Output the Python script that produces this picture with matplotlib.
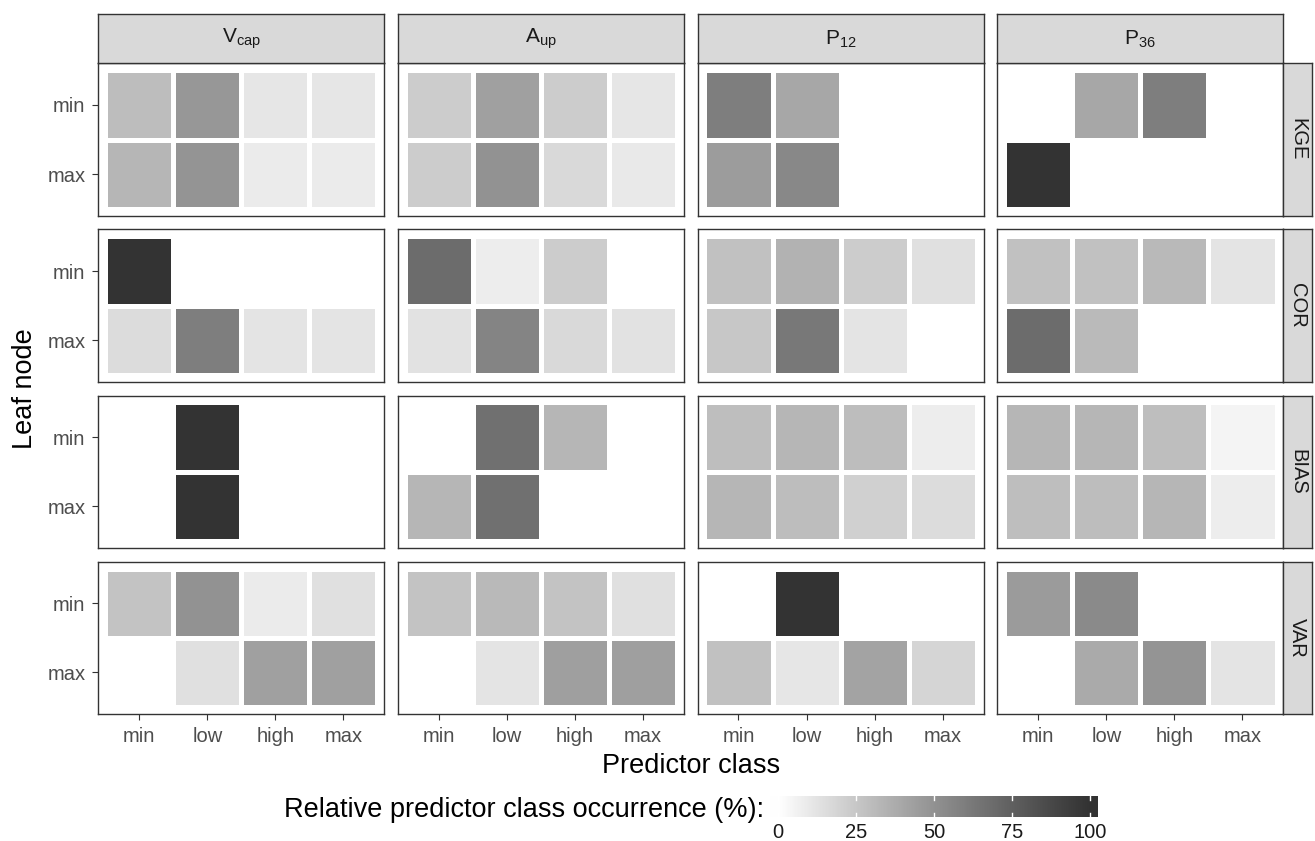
import numpy as np
import matplotlib
matplotlib.use("Agg")
import matplotlib.pyplot as plt
from matplotlib.colors import ListedColormap, Normalize

plt.rcParams["font.family"] = ["Liberation Sans", "DejaVu Sans"]
plt.rcParams["mathtext.fontset"] = "custom"
plt.rcParams["mathtext.rm"] = "Liberation Sans"
plt.rcParams["mathtext.it"] = "Liberation Sans:italic"

nan = np.nan

# Facet labels and category labels
PREDICTORS = [r"$\mathregular{V_{cap}}$", r"$\mathregular{A_{up}}$",
              r"$\mathregular{P_{12}}$", r"$\mathregular{P_{36}}$"]
METRICS = ["KGE", "COR", "BIAS", "VAR"]
PRED_CLASSES = ["min", "low", "high", "max"]
LEAF_NODES = ["min", "max"]

# Relative predictor class occurrence (%), one row per predictor
# (V_cap, A_up, P_12, P_36), columns = predictor class (min, low, high, max)
KGE_MIN = [[30, 48, 11, 11], [23, 43, 23, 11], [60, 40, nan, nan], [nan, 40, 60, nan]]
KGE_MAX = [[33, 49, 9, 9], [23, 50, 17, 10], [45, 55, nan, nan], [100, nan, nan, nan]]
COR_MIN = [[100, nan, nan, nan], [69, 8, 23, nan], [28, 35, 23, 14], [28, 28, 32, 12]]
COR_MAX = [[16, 60, 12, 12], [13, 57, 17, 13], [25, 63, 12, nan], [69, 31, nan, nan]]
BIAS_MIN = [[nan, 100, nan, nan], [nan, 67, 33, nan], [29, 33, 30, 8], [33, 33, 29, 5]]
BIAS_MAX = [[nan, 100, nan, nan], [33, 67, nan, nan], [33, 30, 21, 16], [29, 30, 33, 8]]
VAR_MIN = [[27, 50, 9, 14], [27, 32, 27, 14], [nan, 100, nan, nan], [46, 54, nan, nan]]
VAR_MAX = [[nan, 14, 43, 43], [nan, 12, 44, 44], [28, 11, 42, 19], [nan, 39, 49, 12]]

LEAF_DATA = {
    "KGE": (KGE_MIN, KGE_MAX),
    "COR": (COR_MIN, COR_MAX),
    "BIAS": (BIAS_MIN, BIAS_MAX),
    "VAR": (VAR_MIN, VAR_MAX),
}


# White -> grey20 gradient interpolated in CIE Lab lightness
def _lab_L(v):
    lin = v / 12.92 if v <= 0.04045 else ((v + 0.055) / 1.055) ** 2.4
    return 116 * lin ** (1 / 3) - 16


def _srgb_from_L(L):
    Y = ((L + 16) / 116) ** 3 if L > 8 else L / 903.3
    v = 12.92 * Y if Y <= 0.0031308 else 1.055 * Y ** (1 / 2.4) - 0.055
    return min(max(v, 0.0), 1.0)


L_hi = _lab_L(0x33 / 255)
ramp = [_srgb_from_L(100 + t * (L_hi - 100)) for t in np.linspace(0, 1, 256)]
cmap = ListedColormap([(g, g, g) for g in ramp])
cmap.set_bad((1, 1, 1, 0))
norm = Normalize(0, 100)

W, H = 1315, 841
fig = plt.figure(figsize=(W / 100, H / 100), dpi=100)
fig.patch.set_facecolor("white")


def rect(x0, y0, w, h):
    return [x0 / W, 1 - (y0 + h) / H, w / W, h / H]


X0, Y0 = 98.3, 63.4
PW, PH, GAP = 286.0, 152.4, 13.67
STRIP_TOP, STRIP_H = 14.3, 49.1
STRIP_R = 28.5
EDGE = "#333333"
SMALL = 14.5
BIG = 19.5

for i, metric in enumerate(METRICS):
    mins, maxs = LEAF_DATA[metric]
    for j in range(len(PREDICTORS)):
        x0 = X0 + j * (PW + GAP)
        y0 = Y0 + i * (PH + GAP)
        ax = fig.add_axes(rect(x0, y0, PW, PH))
        grid = np.ma.masked_invalid(np.array([mins[j], maxs[j]], dtype=float))
        xe = np.arange(len(PRED_CLASSES) + 1) + 0.5
        ye = np.arange(len(LEAF_NODES) + 1) + 0.5
        ax.pcolormesh(xe, ye, grid, cmap=cmap, norm=norm,
                      edgecolors="white", linewidth=2.5)
        ax.set_xlim(0.4, 4.6)
        ax.set_ylim(2.6, 0.4)
        for sp in ax.spines.values():
            sp.set_color(EDGE)
            sp.set_linewidth(1.0)
        ax.tick_params(length=4.3, width=0.8, color=EDGE,
                       labelsize=SMALL, labelcolor="#4d4d4d", pad=5)
        if i == len(METRICS) - 1:
            ax.set_xticks(range(1, 5))
            ax.set_xticklabels(PRED_CLASSES)
        else:
            ax.set_xticks([])
        if j == 0:
            ax.set_yticks([1, 2])
            ax.set_yticklabels(LEAF_NODES)
        else:
            ax.set_yticks([])

        # top strips
        if i == 0:
            sax = fig.add_axes(rect(x0, STRIP_TOP, PW, STRIP_H))
            sax.set_facecolor("#d9d9d9")
            sax.set_xticks([]); sax.set_yticks([])
            for sp in sax.spines.values():
                sp.set_color(EDGE); sp.set_linewidth(1.0)
            sax.text(0.5, 0.5, PREDICTORS[j], ha="center", va="center",
                     fontsize=SMALL + 0.5, color="#1a1a1a", transform=sax.transAxes)
        # right strips
        if j == len(PREDICTORS) - 1:
            rax = fig.add_axes(rect(x0 + PW, y0, STRIP_R, PH))
            rax.set_facecolor("#d9d9d9")
            rax.set_xticks([]); rax.set_yticks([])
            for sp in rax.spines.values():
                sp.set_color(EDGE); sp.set_linewidth(1.0)
            rax.text(0.5, 0.5, metric, ha="center", va="center", rotation=-90,
                     fontsize=SMALL, color="#1a1a1a", transform=rax.transAxes)

# axis titles
panel_bottom = Y0 + 4 * PH + 3 * GAP
fig.text(25 / W, 1 - (Y0 + panel_bottom) / 2 / H, "Leaf node", rotation=90,
         ha="center", va="center", fontsize=BIG, color="black")
fig.text((X0 + X0 + 4 * PW + 3 * GAP) / 2 / W, 1 - 766 / H, "Predictor class",
         ha="center", va="center", fontsize=BIG, color="black")

# colour bar legend
pad = 100 * 0.025 / 0.95
cax = fig.add_axes(rect(770, 796, 328, 21))
grad = np.linspace(-pad, 100 + pad, 400)[None, :]
cax.imshow(grad, cmap=cmap, norm=norm, aspect="auto",
           extent=[-pad, 100 + pad, 0, 1], interpolation="bilinear")
cax.set_xlim(-pad, 100 + pad)
cax.set_ylim(0, 1)
ticks = [0, 25, 50, 75, 100]
for t in ticks:
    cax.plot([t, t], [0, 0.2], color="white", lw=1.0)
    cax.plot([t, t], [0.8, 1], color="white", lw=1.0)
cax.set_xticks(ticks)
cax.set_xticklabels([str(t) for t in ticks])
cax.set_yticks([])
cax.tick_params(length=0, labelsize=SMALL, labelcolor="#1a1a1a", pad=4)
for sp in cax.spines.values():
    sp.set_visible(False)
fig.text(764 / W, 1 - 810 / H, "Relative predictor class occurrence (%):",
         ha="right", va="center", fontsize=BIG, color="black")

fig.savefig("out.png", dpi=100, facecolor="white")
